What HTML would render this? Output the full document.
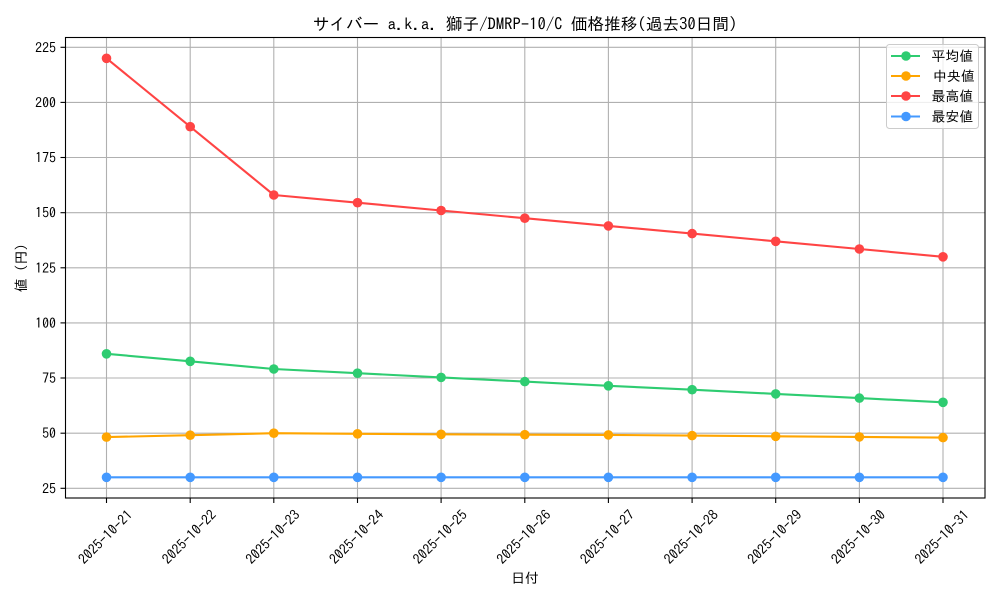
<!DOCTYPE html>
<html>
<head>
<meta charset="utf-8">
<style>
  html, body { margin: 0; padding: 0; background: #ffffff; }
  svg { display: block; }
  text { font-family: "IPAGothic", "Liberation Sans", "Noto Sans CJK JP", sans-serif; fill: #000; }
</style>
</head>
<body>
<svg width="1000" height="600" viewBox="0 0 1000 600" xmlns="http://www.w3.org/2000/svg">
  <rect x="0" y="0" width="1000" height="600" fill="#ffffff"/>

  <!-- grid -->
  <g stroke="#b0b0b0" stroke-width="1.1" fill="none">
    <line x1="106.5" y1="37" x2="106.5" y2="498"/>
    <line x1="190.2" y1="37" x2="190.2" y2="498"/>
    <line x1="273.8" y1="37" x2="273.8" y2="498"/>
    <line x1="357.5" y1="37" x2="357.5" y2="498"/>
    <line x1="441.1" y1="37" x2="441.1" y2="498"/>
    <line x1="524.8" y1="37" x2="524.8" y2="498"/>
    <line x1="608.4" y1="37" x2="608.4" y2="498"/>
    <line x1="692.1" y1="37" x2="692.1" y2="498"/>
    <line x1="775.7" y1="37" x2="775.7" y2="498"/>
    <line x1="859.4" y1="37" x2="859.4" y2="498"/>
    <line x1="943.0" y1="37" x2="943.0" y2="498"/>

    <line x1="65" y1="488.3" x2="985" y2="488.3"/>
    <line x1="65" y1="433.2" x2="985" y2="433.2"/>
    <line x1="65" y1="378.0" x2="985" y2="378.0"/>
    <line x1="65" y1="322.9" x2="985" y2="322.9"/>
    <line x1="65" y1="267.8" x2="985" y2="267.8"/>
    <line x1="65" y1="212.7" x2="985" y2="212.7"/>
    <line x1="65" y1="157.5" x2="985" y2="157.5"/>
    <line x1="65" y1="102.4" x2="985" y2="102.4"/>
    <line x1="65" y1="47.3" x2="985" y2="47.3"/>
  </g>

  <!-- series: 平均値 -->
  <g>
    <polyline fill="none" stroke="#2ecc71" stroke-width="2.1" stroke-linejoin="round"
      points="106.5,353.8 190.2,361.3 273.8,369.0 357.5,373.2 441.1,377.4 524.8,381.6 608.4,385.8 692.1,389.7 775.7,393.9 859.4,398.1 943.0,402.3"/>
    <g fill="#2ecc71">
      <circle cx="106.5" cy="353.8" r="4.8"/><circle cx="190.2" cy="361.3" r="4.8"/><circle cx="273.8" cy="369.0" r="4.8"/>
      <circle cx="357.5" cy="373.2" r="4.8"/><circle cx="441.1" cy="377.4" r="4.8"/><circle cx="524.8" cy="381.6" r="4.8"/>
      <circle cx="608.4" cy="385.8" r="4.8"/><circle cx="692.1" cy="389.7" r="4.8"/><circle cx="775.7" cy="393.9" r="4.8"/>
      <circle cx="859.4" cy="398.1" r="4.8"/><circle cx="943.0" cy="402.3" r="4.8"/>
    </g>
  </g>

  <!-- series: 中央値 -->
  <g>
    <polyline fill="none" stroke="#ffa500" stroke-width="2.1" stroke-linejoin="round"
      points="106.5,437.1 190.2,435.2 273.8,433.2 357.5,433.8 441.1,434.3 524.8,434.7 608.4,434.9 692.1,435.6 775.7,436.3 859.4,436.9 943.0,437.6"/>
    <g fill="#ffa500">
      <circle cx="106.5" cy="437.1" r="4.8"/><circle cx="190.2" cy="435.2" r="4.8"/><circle cx="273.8" cy="433.2" r="4.8"/>
      <circle cx="357.5" cy="433.8" r="4.8"/><circle cx="441.1" cy="434.3" r="4.8"/><circle cx="524.8" cy="434.7" r="4.8"/>
      <circle cx="608.4" cy="434.9" r="4.8"/><circle cx="692.1" cy="435.6" r="4.8"/><circle cx="775.7" cy="436.3" r="4.8"/>
      <circle cx="859.4" cy="436.9" r="4.8"/><circle cx="943.0" cy="437.6" r="4.8"/>
    </g>
  </g>

  <!-- series: 最高値 -->
  <g>
    <polyline fill="none" stroke="#ff4444" stroke-width="2.1" stroke-linejoin="round"
      points="106.5,58.3 190.2,126.7 273.8,195.0 357.5,202.7 441.1,210.5 524.8,218.2 608.4,225.9 692.1,233.6 775.7,241.3 859.4,249.0 943.0,256.8"/>
    <g fill="#ff4444">
      <circle cx="106.5" cy="58.3" r="4.8"/><circle cx="190.2" cy="126.7" r="4.8"/><circle cx="273.8" cy="195.0" r="4.8"/>
      <circle cx="357.5" cy="202.7" r="4.8"/><circle cx="441.1" cy="210.5" r="4.8"/><circle cx="524.8" cy="218.2" r="4.8"/>
      <circle cx="608.4" cy="225.9" r="4.8"/><circle cx="692.1" cy="233.6" r="4.8"/><circle cx="775.7" cy="241.3" r="4.8"/>
      <circle cx="859.4" cy="249.0" r="4.8"/><circle cx="943.0" cy="256.8" r="4.8"/>
    </g>
  </g>

  <!-- series: 最安値 -->
  <g>
    <polyline fill="none" stroke="#4499ff" stroke-width="2.1" stroke-linejoin="round"
      points="106.5,477.3 190.2,477.3 273.8,477.3 357.5,477.3 441.1,477.3 524.8,477.3 608.4,477.3 692.1,477.3 775.7,477.3 859.4,477.3 943.0,477.3"/>
    <g fill="#4499ff">
      <circle cx="106.5" cy="477.3" r="4.8"/><circle cx="190.2" cy="477.3" r="4.8"/><circle cx="273.8" cy="477.3" r="4.8"/>
      <circle cx="357.5" cy="477.3" r="4.8"/><circle cx="441.1" cy="477.3" r="4.8"/><circle cx="524.8" cy="477.3" r="4.8"/>
      <circle cx="608.4" cy="477.3" r="4.8"/><circle cx="692.1" cy="477.3" r="4.8"/><circle cx="775.7" cy="477.3" r="4.8"/>
      <circle cx="859.4" cy="477.3" r="4.8"/><circle cx="943.0" cy="477.3" r="4.8"/>
    </g>
  </g>

  <!-- axes frame -->
  <rect x="65.5" y="37.5" width="919.5" height="460.5" fill="none" stroke="#000" stroke-width="1.1"/>

  <!-- ticks -->
  <g stroke="#000" stroke-width="1.1">
    <line x1="106.5" y1="498" x2="106.5" y2="503"/>
    <line x1="190.2" y1="498" x2="190.2" y2="503"/>
    <line x1="273.8" y1="498" x2="273.8" y2="503"/>
    <line x1="357.5" y1="498" x2="357.5" y2="503"/>
    <line x1="441.1" y1="498" x2="441.1" y2="503"/>
    <line x1="524.8" y1="498" x2="524.8" y2="503"/>
    <line x1="608.4" y1="498" x2="608.4" y2="503"/>
    <line x1="692.1" y1="498" x2="692.1" y2="503"/>
    <line x1="775.7" y1="498" x2="775.7" y2="503"/>
    <line x1="859.4" y1="498" x2="859.4" y2="503"/>
    <line x1="943.0" y1="498" x2="943.0" y2="503"/>

    <line x1="60.5" y1="488.3" x2="65.5" y2="488.3"/>
    <line x1="60.5" y1="433.2" x2="65.5" y2="433.2"/>
    <line x1="60.5" y1="378.0" x2="65.5" y2="378.0"/>
    <line x1="60.5" y1="322.9" x2="65.5" y2="322.9"/>
    <line x1="60.5" y1="267.8" x2="65.5" y2="267.8"/>
    <line x1="60.5" y1="212.7" x2="65.5" y2="212.7"/>
    <line x1="60.5" y1="157.5" x2="65.5" y2="157.5"/>
    <line x1="60.5" y1="102.4" x2="65.5" y2="102.4"/>
    <line x1="60.5" y1="47.3" x2="65.5" y2="47.3"/>
  </g>

  <!-- y tick labels -->
  <g font-size="13.9" text-anchor="end">
    <text x="56" y="493.3">25</text>
    <text x="56" y="438.2">50</text>
    <text x="56" y="383.0">75</text>
    <text x="56" y="327.9">100</text>
    <text x="56" y="272.8">125</text>
    <text x="56" y="217.7">150</text>
    <text x="56" y="162.5">175</text>
    <text x="56" y="107.4">200</text>
    <text x="56" y="52.3">225</text>
  </g>

  <!-- x tick labels -->
  <g font-size="13.9" text-anchor="middle">
    <text transform="translate(105.5,537) rotate(-45)" dy="0.35em">2025-10-21</text>
    <text transform="translate(189.2,537) rotate(-45)" dy="0.35em">2025-10-22</text>
    <text transform="translate(272.8,537) rotate(-45)" dy="0.35em">2025-10-23</text>
    <text transform="translate(356.5,537) rotate(-45)" dy="0.35em">2025-10-24</text>
    <text transform="translate(440.1,537) rotate(-45)" dy="0.35em">2025-10-25</text>
    <text transform="translate(523.8,537) rotate(-45)" dy="0.35em">2025-10-26</text>
    <text transform="translate(607.4,537) rotate(-45)" dy="0.35em">2025-10-27</text>
    <text transform="translate(691.1,537) rotate(-45)" dy="0.35em">2025-10-28</text>
    <text transform="translate(774.7,537) rotate(-45)" dy="0.35em">2025-10-29</text>
    <text transform="translate(858.4,537) rotate(-45)" dy="0.35em">2025-10-30</text>
    <text transform="translate(942.0,537) rotate(-45)" dy="0.35em">2025-10-31</text>
  </g>

  <!-- axis labels -->
  <text x="525" y="583" font-size="13.9" text-anchor="middle">日付</text>
  <text transform="translate(26,268) rotate(-90)" font-size="13.9" text-anchor="middle">値 (円)</text>

  <!-- title -->
  <text x="525" y="30" font-size="16.67" text-anchor="middle">サイバー a.k.a. 獅子/DMRP-10/C 価格推移(過去30日間)</text>

  <!-- legend -->
  <rect x="886.5" y="44.5" width="92" height="84" rx="3" ry="3" fill="#ffffff" fill-opacity="0.8" stroke="#cccccc" stroke-width="1"/>
  <g stroke-width="2.1">
    <line x1="891" y1="56" x2="920" y2="56" stroke="#2ecc71"/>
    <line x1="891" y1="76" x2="920" y2="76" stroke="#ffa500"/>
    <line x1="891" y1="96" x2="920" y2="96" stroke="#ff4444"/>
    <line x1="891" y1="116.5" x2="920" y2="116.5" stroke="#4499ff"/>
  </g>
  <circle cx="906" cy="56" r="4.8" fill="#2ecc71"/>
  <circle cx="906" cy="76" r="4.8" fill="#ffa500"/>
  <circle cx="906" cy="96" r="4.8" fill="#ff4444"/>
  <circle cx="906" cy="116.5" r="4.8" fill="#4499ff"/>
  <g font-size="13.9">
    <text x="931.5" y="61">平均値</text>
    <text x="933" y="81">中央値</text>
    <text x="931.5" y="101">最高値</text>
    <text x="931.5" y="121.5">最安値</text>
  </g>
</svg>
</body>
</html>
